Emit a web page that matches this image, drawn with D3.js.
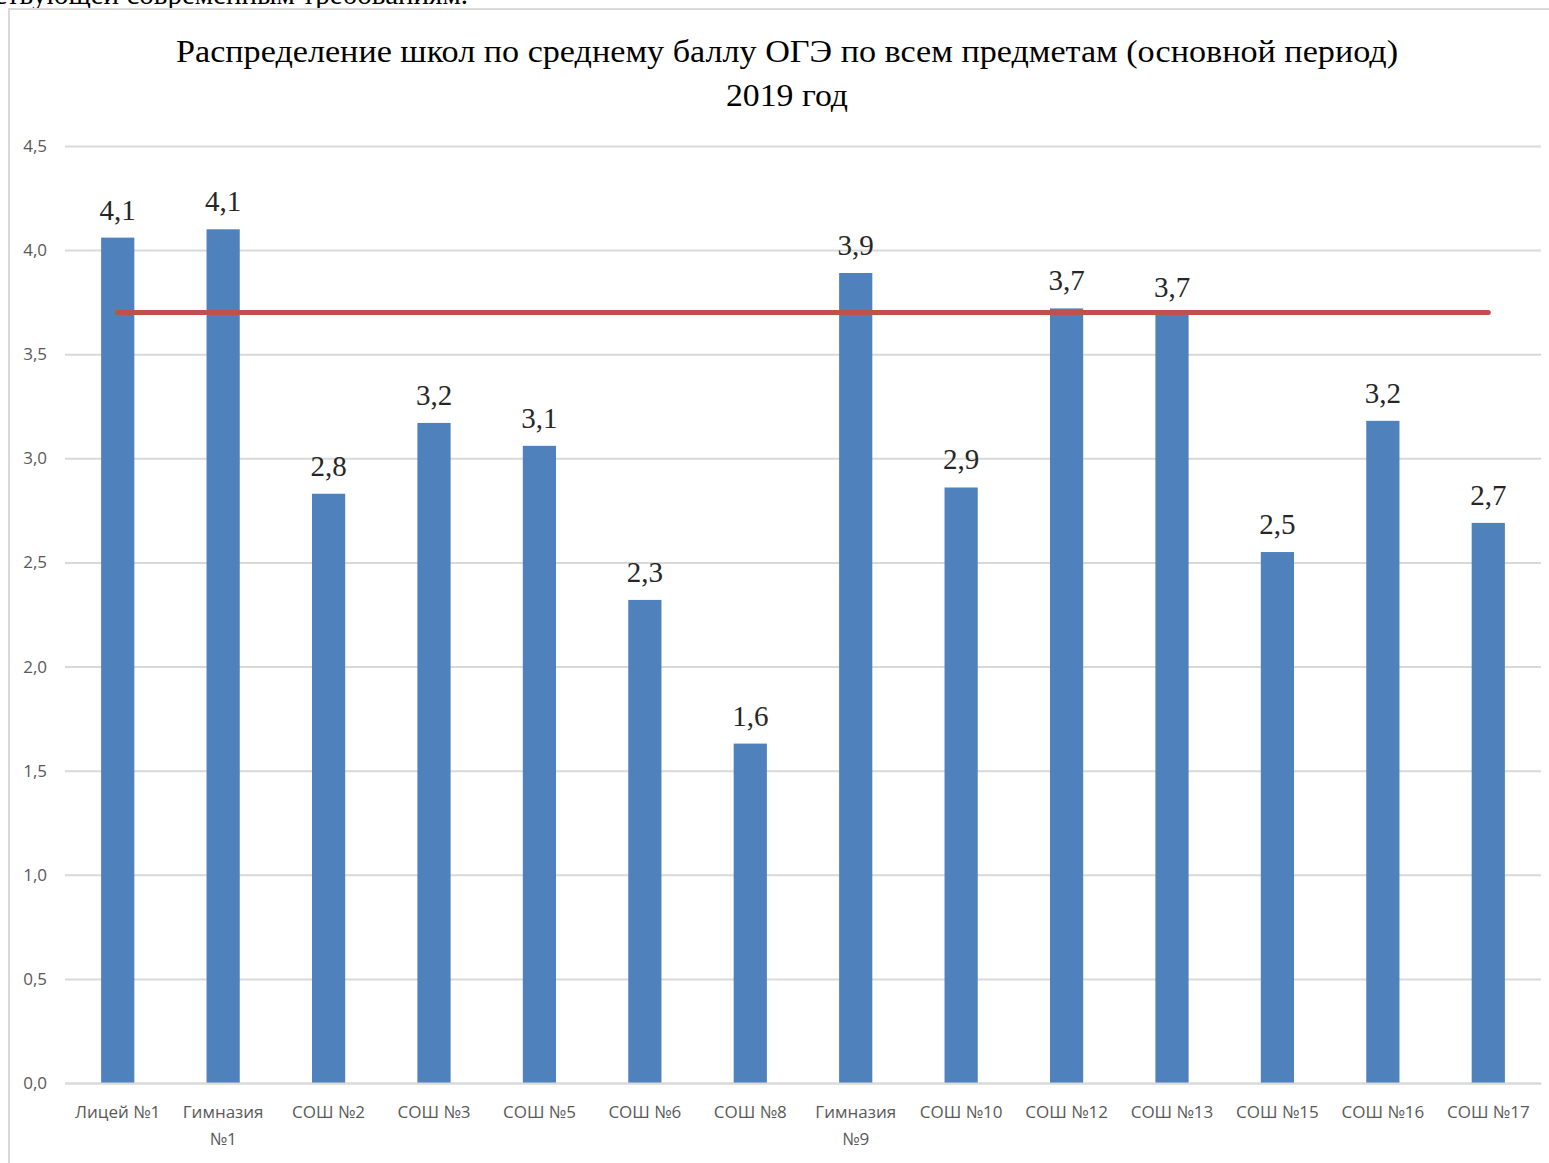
<!DOCTYPE html>
<html>
<head>
<meta charset="utf-8">
<script src="https://cdn.jsdelivr.net/npm/d3@7"></script>
<style>
  body { margin: 0; background: #fff; }
  svg { display: block; }
</style>
</head>
<body>
<svg id="chart" width="1549" height="1163"></svg>
<script>
var schools = ["Лицей №1", "Гимназия №1", "СОШ №2", "СОШ №3", "СОШ №5", "СОШ №6", "СОШ №8",
  "Гимназия №9", "СОШ №10", "СОШ №12", "СОШ №13", "СОШ №15", "СОШ №16", "СОШ №17"];
var scores = [4.06, 4.10, 2.83, 3.17, 3.06, 2.32, 1.63, 3.89, 2.86, 3.72, 3.69, 2.55, 3.18, 2.69];
var regionAvg = 3.70;
var yTicks = [0, 0.5, 1, 1.5, 2, 2.5, 3, 3.5, 4, 4.5];

var svg = d3.select("#chart");

// page text above the chart, cut off by the crop
svg.append("text")
  .attr("x", -6).attr("y", 4)
  .style("font-family", "'Liberation Serif', 'Times New Roman', serif")
  .style("font-size", "29px")
  .attr("fill", "#000")
  .text("ствующей современным требованиям.");

// chart frame
svg.append("rect")
  .attr("x", 9).attr("y", 9)
  .attr("width", 1600).attr("height", 1200)
  .attr("fill", "#fff")
  .attr("stroke", "#d9d9d9")
  .attr("stroke-width", 2);

var plotLeft = 65, plotRight = 1541, plotTop = 146, plotBottom = 1083;

var x = d3.scaleBand()
  .domain(schools)
  .range([plotLeft, plotRight])
  .paddingInner(0.685)
  .paddingOuter(0.3425);

var y = d3.scaleLinear()
  .domain([0, 4.5])
  .range([plotBottom, plotTop]);

var fmt = function(v) { return d3.format(".1f")(v).replace(".", ","); };

// title
var title = svg.append("g")
  .style("font-family", "'Liberation Serif', 'Times New Roman', serif")
  .style("font-size", "32px")
  .attr("fill", "#000")
  .attr("text-anchor", "middle");
title.append("text")
  .attr("x", 787).attr("y", 62)
  .attr("textLength", 1222)
  .attr("lengthAdjust", "spacingAndGlyphs")
  .text("Распределение  школ по среднему  баллу ОГЭ по всем предметам (основной период)");
title.append("text")
  .attr("x", 787).attr("y", 106)
  .attr("textLength", 122)
  .attr("lengthAdjust", "spacingAndGlyphs")
  .text("2019 год");

// grid + y axis
var yAxis = svg.append("g")
  .attr("transform", "translate(" + plotLeft + ",0)")
  .call(d3.axisLeft(y).tickValues(yTicks).tickFormat(fmt)
    .tickSize(-(plotRight - plotLeft)).tickPadding(18));
yAxis.select(".domain").remove();
yAxis.selectAll(".tick line")
  .attr("stroke", "#d9d9d9")
  .attr("stroke-width", 2);
yAxis.selectAll(".tick text")
  .attr("fill", "#595959")
  .style("font-family", "'Open Sans', 'Noto Sans', sans-serif")
  .style("font-size", "17px");

// bars
svg.append("g").selectAll("rect")
  .data(schools)
  .enter()
  .append("rect")
  .attr("x", function(d) { return x(d); })
  .attr("width", x.bandwidth())
  .attr("y", function(d, i) { return y(scores[i]); })
  .attr("height", function(d, i) { return y(0) - y(scores[i]); })
  .attr("fill", "#4f81bd");

// x axis
var xAxis = svg.append("g")
  .attr("transform", "translate(0," + plotBottom + ")")
  .call(d3.axisBottom(x).tickSize(0).tickPadding(0));
xAxis.select(".domain").attr("stroke", "#d9d9d9").attr("stroke-width", 2);
xAxis.selectAll(".tick text").remove();
xAxis.selectAll(".tick").each(function(d) {
  var parts = d.indexOf("Гимназия") === 0 ? ["Гимназия", d.replace("Гимназия ", "")] : [d];
  var t = d3.select(this).append("text")
    .attr("fill", "#595959")
    .attr("text-anchor", "middle")
    .style("font-family", "'Liberation Sans Narrow', 'Open Sans', sans-serif")
    .style("font-size", "17px");
  parts.forEach(function(p, k) {
    t.append("tspan").attr("x", 0).attr("y", 35 + k * 27).text(p);
  });
});

// average line
svg.append("line")
  .attr("x1", x(schools[0]) + x.bandwidth() / 2)
  .attr("x2", x(schools[schools.length - 1]) + x.bandwidth() / 2)
  .attr("y1", y(regionAvg))
  .attr("y2", y(regionAvg))
  .attr("stroke", "#c0504d")
  .attr("stroke-width", 5)
  .attr("stroke-linecap", "round");

// value labels
svg.append("g").selectAll("text")
  .data(schools)
  .enter()
  .append("text")
  .attr("x", function(d) { return x(d) + x.bandwidth() / 2; })
  .attr("y", function(d, i) { return y(scores[i]) - 18; })
  .attr("text-anchor", "middle")
  .attr("fill", "#262626")
  .style("font-family", "'Liberation Serif', 'Times New Roman', serif")
  .style("font-size", "29px")
  .text(function(d, i) { return fmt(scores[i]); });
</script>
</body>
</html>
